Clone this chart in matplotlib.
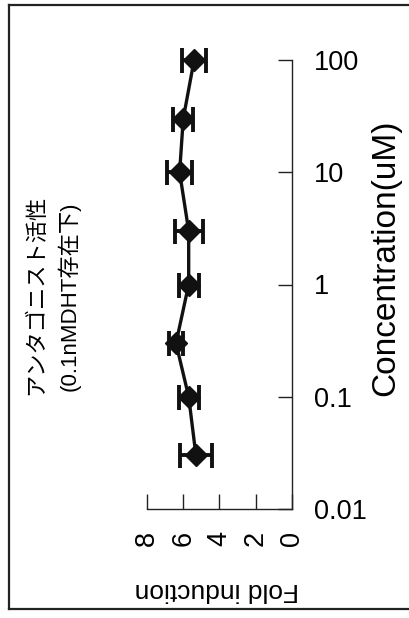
import matplotlib
matplotlib.use("Agg")
import matplotlib.pyplot as plt
from matplotlib.lines import Line2D

# Dose-response data (antagonist mode, 0.1 nM DHT present)
concentration = [0.03, 0.1, 0.3, 1, 3, 10, 30, 100]        # uM
fold_induction = [5.3, 5.7, 6.4, 5.7, 5.7, 6.2, 6.0, 5.4]
fold_error = [0.88, 0.55, 0.4, 0.55, 0.78, 0.67, 0.55, 0.67]

conc_ticks = [0.01, 0.1, 1, 10, 100]
conc_labels = ["0.01", "0.1", "1", "10", "100"]
fold_ticks = [8, 6, 4, 2, 0]
fold_labels = ["8", "6", "4", "2", "0"]

title_lines = ["アンタゴニスト活性", "(0.1nMDHT存在下)"]
x_label = "Concentration(uM)"
y_label = "Fold induction"

W, H = 410, 618
fig = plt.figure(figsize=(W / 100, H / 100), dpi=100)
fig.patch.set_facecolor("white")

latin = "Liberation Sans"
ink = "#111111"

# axes rectangle in pixels: left 147, right 292, top 60, bottom 509
L, R, T, B = 147, 292, 60, 509
ax = fig.add_axes([L / W, (H - B) / H, (R - L) / W, (B - T) / H])
ax.set_facecolor("none")

line, caps, bars = ax.errorbar(
    fold_induction, concentration, xerr=fold_error,
    color=ink, lw=2.4, marker="D", markersize=11,
    markerfacecolor=ink, markeredgecolor=ink,
    ecolor=ink, elinewidth=2.8, capsize=9, capthick=2.8, zorder=3)
line.set_clip_on(False)
for c in caps:
    c.set_clip_on(False)
for b in bars:
    b.set_clip_on(False)

ax.set_yscale("log")
ax.set_ylim(0.01, 100)
ax.set_xlim(8, 0)

for s in ("top", "left"):
    ax.spines[s].set_visible(False)
for s in ("right", "bottom"):
    ax.spines[s].set_linewidth(1.0)
    ax.spines[s].set_color("#222222")

ax.yaxis.tick_right()
ax.set_yticks(conc_ticks)
ax.set_yticklabels(conc_labels, fontsize=19.5, family=latin)
ax.yaxis.set_minor_locator(matplotlib.ticker.NullLocator())
ax.tick_params(axis="y", which="major", direction="in", length=10,
               width=1.0, pad=16, colors="#222222", labelcolor="black")

ax.set_xticks(fold_ticks)
ax.set_xticklabels(fold_labels, fontsize=19.5, family=latin, rotation=90,
                   va="top", ha="center")
ax.tick_params(axis="x", which="major", direction="in", length=11,
               width=1.0, pad=16, colors="#222222", labelcolor="black")

# axis titles
fig.text(386 / W, 1 - 258 / H, x_label, rotation=90, ha="center",
         va="center", fontsize=24, family=latin)
fig.text(217 / W, 1 - 590 / H, y_label, rotation=180, ha="center",
         va="center", fontsize=19, family=latin)

# chart title, two rotated lines
title_font = [latin, "Noto Sans CJK JP"]
fig.text(37 / W, 1 - 295 / H, title_lines[0], rotation=90, ha="center",
         va="center", fontsize=16, family=title_font)
fig.text(69 / W, 1 - 296 / H, title_lines[1], rotation=90, ha="center",
         va="center", fontsize=16, family=title_font)

# outer frame
fx0, fy_top, fy_bot = 8.5 / W, 1 - 4.5 / H, 1 - 609 / H
for xs, ys in (([fx0, fx0], [fy_bot, fy_top]),
               ([fx0, 1.0], [fy_top, fy_top]),
               ([fx0, 1.0], [fy_bot, fy_bot])):
    fig.add_artist(Line2D(xs, ys, transform=fig.transFigure,
                          color="#222222", lw=1.6))

fig.savefig("out.png", dpi=100)
